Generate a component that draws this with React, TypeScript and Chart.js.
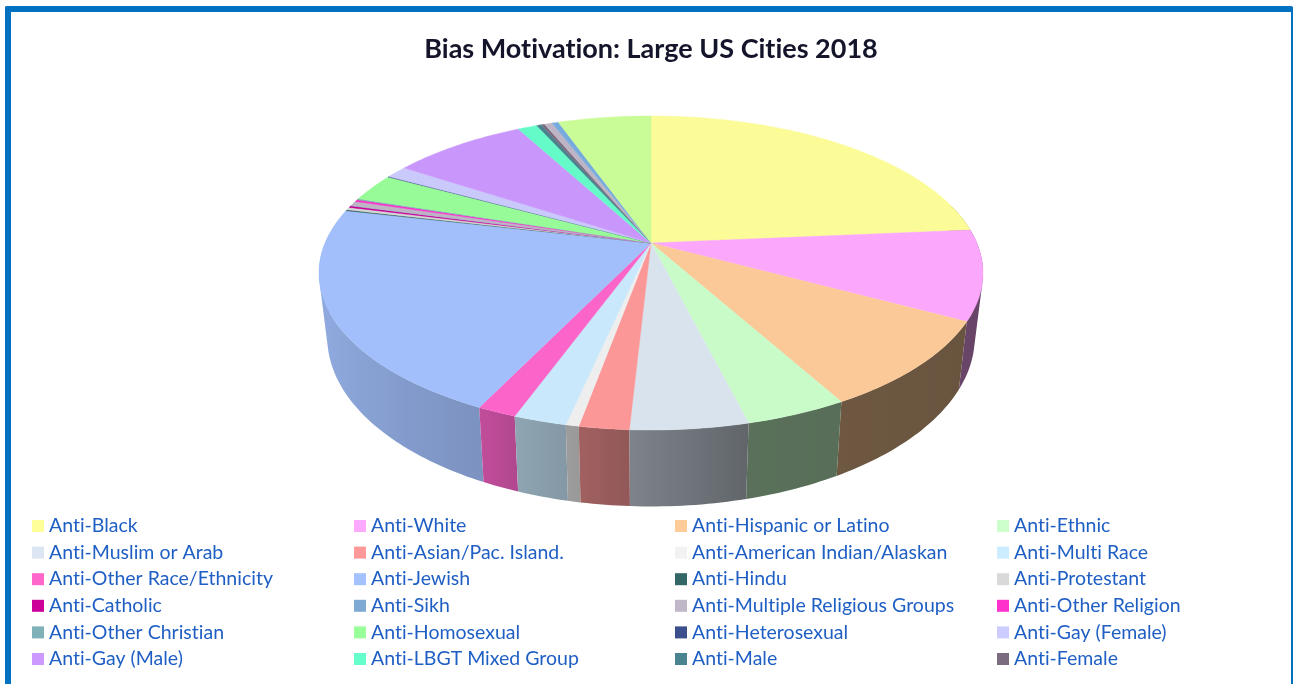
import React, { useEffect, useRef } from "react";
import { Chart, registerables } from "chart.js";

Chart.register(...registerables);

const chartTitle = "Bias Motivation: Large US Cities 2018";

const legendLabels = [
  "Anti-Black", "Anti-White", "Anti-Hispanic or Latino", "Anti-Ethnic",
  "Anti-Muslim or Arab", "Anti-Asian/Pac. Island.", "Anti-American Indian/Alaskan", "Anti-Multi Race",
  "Anti-Other Race/Ethnicity", "Anti-Jewish", "Anti-Hindu", "Anti-Protestant",
  "Anti-Catholic", "Anti-Sikh", "Anti-Multiple Religious Groups", "Anti-Other Religion",
  "Anti-Other Christian", "Anti-Homosexual", "Anti-Heterosexual", "Anti-Gay (Female)",
  "Anti-Gay (Male)", "Anti-LBGT Mixed Group", "Anti-Male", "Anti-Female",
];

// The last three slices have legend rows that lie below the cropped picture.
const unseenLabels = ["(legend cropped) 25", "(legend cropped) 26", "(legend cropped) 27"];

const sliceValues = [
  85, 33.2, 32.7, 15, 17.2, 7.3, 1.9, 7.8, 5.8, 77, 0.4, 1, 0.7, 0.05, 1.8, 0.8, 0.4, 10.4, 0.2,
  4.6, 28.4, 4.1, 1, 0.7, 1.6, 1.4, 19.6,
];

const sliceColors = [
  "#FFFF99", "#FFAAFF", "#FFCC99", "#CCFFCC", "#DCE6F2", "#FF9999", "#F2F2F2", "#CCECFF",
  "#FF66CC", "#A4C2FF", "#336666", "#D9D9D9", "#CC0099", "#7FAAD4", "#C0B8C8", "#FF33CC",
  "#7FB2B8", "#99FF99", "#3B4F8C", "#CCCCFF", "#CC99FF", "#66FFCC", "#4A8490", "#7C6C80",
  "#C0B8C8", "#7AAEE0", "#CCFF99",
];

const shadeStops: [number, number][] = [
  [0, 0.4], [120, 0.41], [150, 0.43], [166, 0.44], [183, 0.57], [190, 0.63], [200, 0.7],
  [206, 0.76], [240, 0.86], [285, 0.93], [360, 0.93],
];

const TILT = 0.191;
const STRETCH_X = 2.055;
const STRETCH_Y = 0.954;
const WALL_SCALE_X = 0.975;
const WALL_SCALE_Y = 1.078;
const WALL_DROP = 0.39;
const TOP_FACE_SHADE = 0.985;

function shadeAt(deg: number) {
  for (let i = 1; i < shadeStops.length; i++) {
    const [a, fa] = shadeStops[i - 1];
    const [b, fb] = shadeStops[i];
    if (deg <= b) return fa + ((fb - fa) * (deg - a)) / (b - a);
  }
  return 0.93;
}

function darken(hex: string, f: number) {
  const n = parseInt(hex.slice(1), 16);
  return `rgb(${Math.round(((n >> 16) & 255) * f)},${Math.round(((n >> 8) & 255) * f)},${Math.round((n & 255) * f)})`;
}

const noLigatures = {
  id: "noLigatures",
  beforeDraw(chart: any) {
    chart.ctx.textRendering = "optimizeSpeed";
  },
};

const pie3d = {
  id: "pie3d",
  beforeDatasetsDraw(chart: any) {
    const ctx = chart.ctx;
    const arcs = chart.getDatasetMeta(0).data;
    const { x: cx, y: cy, outerRadius: R } = arcs[0];
    const top = (t: number) => {
      const u = Math.sin(t);
      const v = Math.cos(t);
      const w = 1 + TILT * v;
      return { x: cx + (STRETCH_X * R * u) / w, y: cy - (STRETCH_Y * R * v) / w };
    };
    const bottom = (p: { x: number; y: number }) => ({
      x: cx + WALL_SCALE_X * (p.x - cx),
      y: cy + WALL_DROP * R + WALL_SCALE_Y * (p.y - cy),
    });
    const angles = (i: number) => [arcs[i].startAngle + Math.PI / 2, arcs[i].endAngle + Math.PI / 2];
    const LOW = (75 * Math.PI) / 180;
    const HIGH = (262 * Math.PI) / 180;
    const LAST = (290 * Math.PI) / 180;

    // side wall: one shaded path per slice, far slices first
    const walls = arcs
      .map((_: any, i: number) => i)
      .filter((i: number) => angles(i)[1] > LOW && angles(i)[0] < LAST)
      .sort((p: number, q: number) => {
        const mp = (angles(p)[0] + angles(p)[1]) / 2;
        const mq = (angles(q)[0] + angles(q)[1]) / 2;
        return Math.cos(mq) - Math.cos(mp);
      });
    ctx.save();
    ctx.lineJoin = "round";
    for (const i of walls) {
      const [s0, e0] = angles(i);
      const s = Math.max(s0, LOW);
      const e = Math.min(e0, LAST);
      const n = Math.max(2, Math.ceil(((e - s) * 180) / Math.PI));
      const shadeEnd = Math.max(Math.min(e, HIGH), s + 1e-3);
      const x0 = top(s).x;
      const x1 = top(shadeEnd).x;
      const grad = ctx.createLinearGradient(x0, 0, Math.abs(x1 - x0) < 0.01 ? x0 + 1 : x1, 0);
      const steps = 12;
      for (let k = 0; k <= steps; k++) {
        const t = s + ((shadeEnd - s) * k) / steps;
        const f = Math.abs(x1 - x0) < 0.01 ? k / steps : (top(t).x - x0) / (x1 - x0);
        grad.addColorStop(Math.min(1, Math.max(0, f)), darken(sliceColors[i], shadeAt((t * 180) / Math.PI)));
      }
      // Every quad is wound the same way, so they join into one shape with no seams.
      ctx.beginPath();
      for (let k = 0; k < n; k++) {
        const t1 = top(s + ((e - s) * k) / n);
        const t2 = top(s + ((e - s) * (k + 1)) / n);
        const q = [t1, t2, bottom(t2), bottom(t1)];
        let area = 0;
        q.forEach((p, j) => {
          const r = q[(j + 1) % 4];
          area += p.x * r.y - r.x * p.y;
        });
        if (area < 0) q.reverse();
        q.forEach((p, j) => (j ? ctx.lineTo(p.x, p.y) : ctx.moveTo(p.x, p.y)));
        ctx.closePath();
      }
      ctx.fillStyle = grad;
      ctx.fill();
    }

    // top face
    arcs.forEach((_: any, i: number) => {
      const [s, e] = angles(i);
      const n = Math.max(1, Math.ceil(((e - s) * 180) / Math.PI));
      const color = darken(sliceColors[i], TOP_FACE_SHADE);
      ctx.beginPath();
      ctx.moveTo(cx, cy);
      for (let k = 0; k <= n; k++) {
        const p = top(s + ((e - s) * k) / n);
        ctx.lineTo(p.x, p.y);
      }
      ctx.closePath();
      ctx.fillStyle = color;
      ctx.strokeStyle = color;
      ctx.lineWidth = 0.4;
      ctx.fill();
      ctx.stroke();
    });
    ctx.restore();
    return false;
  },
};

const columnLegend = {
  id: "columnLegend",
  afterDraw(chart: any) {
    const ctx = chart.ctx;
    const columnX = [21, 343, 664, 986];
    const firstRow = 514;
    const rowStep = 26.6;
    ctx.save();
    ctx.font = "19.5px Lato";
    ctx.textBaseline = "middle";
    legendLabels.forEach((label, i) => {
      const x = columnX[i % 4];
      const y = firstRow + rowStep * Math.floor(i / 4);
      ctx.fillStyle = sliceColors[i];
      ctx.fillRect(x, y - 6, 12, 12);
      ctx.fillStyle = "#1F5FC4";
      ctx.fillText(label, x + 17, y);
    });
    ctx.restore();
  },
};

export default function App() {
  const ref = useRef<HTMLCanvasElement>(null);
  useEffect(() => {
    const chart = new Chart(ref.current!, {
      type: "pie",
      data: {
        labels: [...legendLabels, ...unseenLabels],
        datasets: [{ data: sliceValues, backgroundColor: sliceColors, borderWidth: 0 }],
      },
      options: {
        responsive: false,
        animation: false,
        events: [],
        layout: { padding: { bottom: 282.4 } },
        plugins: {
          legend: { display: false },
          tooltip: { enabled: false },
          title: {
            display: true,
            text: chartTitle,
            color: "#14142B",
            font: { family: "Lato", size: 27, weight: "bold" },
            padding: { top: 21, bottom: 19 },
          },
        },
      },
      plugins: [noLigatures, pie3d, columnLegend],
    } as any);
    return () => chart.destroy();
  }, []);
  return (
    <div
      style={{
        position: "fixed",
        left: 5,
        top: 6,
        width: 1288,
        height: 720,
        boxSizing: "border-box",
        borderTop: "6px solid #0070C0",
        borderLeft: "6px solid #0070C0",
        borderRight: "2px solid #0070C0",
        borderRadius: 2,
        background: "#fff",
        overflow: "hidden",
      }}
    >
      <canvas ref={ref} width={1280} height={672} style={{ display: "block" }} />
    </div>
  );
}
